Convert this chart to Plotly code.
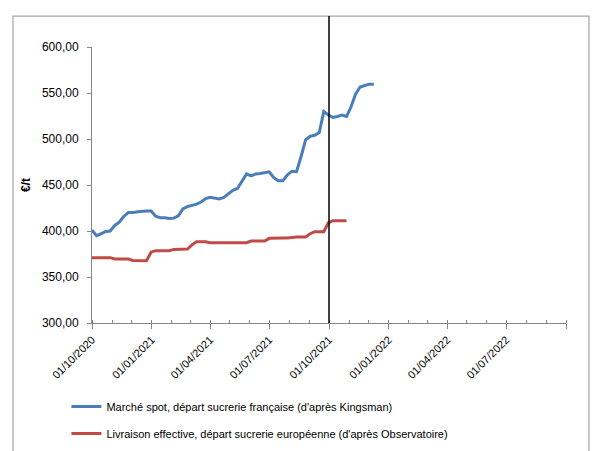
import pandas as pd
import plotly.graph_objects as go

start_date = "2020-10-01"

spot_values = [401, 395, 397, 399.5, 400, 406, 409.5, 416, 420, 420,
               421, 421.7, 421.7, 421.7, 416, 414.5, 414.5, 413.5, 414, 416.5,
               424, 426.5, 427.7, 429.2, 431.5, 435.3, 436.6, 436, 434.8, 436.5,
               440, 444.3, 446.2, 454, 462, 460, 462, 462.5, 463.3, 464.3,
               458, 454.7, 454.7, 461, 465, 464.5, 481, 499, 503, 504,
               507, 530, 526, 523.5, 524.5, 526, 524.6, 535, 549, 556.5,
               558.2, 559.6, 559.5]

delivery_values = [371, 371, 371, 371, 371, 369.6, 369.6, 369.6, 369.6, 368,
                   367.7, 367.7, 367.7, 377, 378.6, 378.6, 378.6, 378.6, 380, 380.4,
                   380.4, 380.4, 385, 388.4, 388.4, 388.4, 387.3, 387.3, 387.3, 387.3,
                   387.3, 387.3, 387.3, 387.3, 387.3, 389, 389, 389, 389, 392,
                   392.4, 392.4, 392.4, 392.4, 393.3, 393.5, 393.5, 393.5, 397, 399.3,
                   399.3, 399.3, 409, 411.2, 411.2, 411.2, 411.2]

tick_dates = ["2020-10-01", "2021-01-01", "2021-04-01", "2021-07-01", "2021-10-01",
              "2022-01-01", "2022-04-01", "2022-07-01", "2022-10-01"]
tick_labels = ["01/10/2020", "01/01/2021", "01/04/2021", "01/07/2021", "01/10/2021",
               "01/01/2022", "01/04/2022", "01/07/2022", ""]

marker_date = "2021-10-01"

spot_dates = pd.date_range(start_date, periods=len(spot_values), freq="7D")
delivery_dates = pd.date_range(start_date, periods=len(delivery_values), freq="7D")

FONT = "Liberation Sans"
AX = "#868686"

fig = go.Figure()
fig.add_trace(go.Scatter(x=spot_dates, y=spot_values, mode="lines",
                         name="Marché spot, départ sucrerie française (d'après Kingsman)",
                         legendgroup="a",
                         line=dict(color="#4A7EBB", width=3)))
fig.add_trace(go.Scatter(x=delivery_dates, y=delivery_values, mode="lines",
                         name="Livraison effective, départ sucrerie européenne (d'après Observatoire)",
                         legendgroup="b",
                         line=dict(color="#BE4B48", width=3)))

fig.add_shape(type="line", xref="x", yref="paper", x0=marker_date, x1=marker_date,
              y0=0, y1=1.112, line=dict(color="black", width=1.5))
fig.add_shape(type="rect", xref="paper", yref="paper", x0=-0.1667, x1=1.0485,
              y0=-0.6, y1=1.112, line=dict(color="#A6A6A6", width=1.2), layer="below")

fig.update_layout(
    width=595, height=451,
    margin=dict(l=92, r=29, t=47, b=128, autoexpand=False),
    paper_bgcolor="white", plot_bgcolor="white",
    separators=", ",
    font=dict(family=FONT, size=12, color="black"),
    showlegend=True,
    legend=dict(x=-0.054, y=-0.25, xanchor="left", yanchor="top",
                orientation="v", font=dict(family=FONT, size=11),
                tracegroupgap=8, bgcolor="rgba(0,0,0,0)"),
)
fig.update_xaxes(
    type="date", range=["2020-10-01", "2022-10-01"],
    tickvals=tick_dates, ticktext=tick_labels, tickangle=-45,
    tickfont=dict(family=FONT, size=11),
    showgrid=False, zeroline=False, showline=True, linecolor=AX, linewidth=1,
    ticks="outside", ticklen=5, tickcolor=AX,
    minor=dict(ticks="inside", dtick="M1", tick0="2020-10-01", ticklen=3,
               tickcolor=AX, showgrid=False),
)
fig.update_yaxes(
    range=[300, 600], dtick=50, tickformat=".2f",
    showgrid=False, zeroline=False, showline=True, linecolor=AX, linewidth=1,
    ticks="outside", ticklen=4, tickcolor=AX, ticklabelstandoff=6,
    tickfont=dict(family=FONT, size=12),
    title=dict(text="<b>€/t</b>", font=dict(family=FONT, size=12), standoff=8),
)

fig.write_html("out.html", config={"displayModeBar": False},
               post_script="document.body.style.margin='0';")
